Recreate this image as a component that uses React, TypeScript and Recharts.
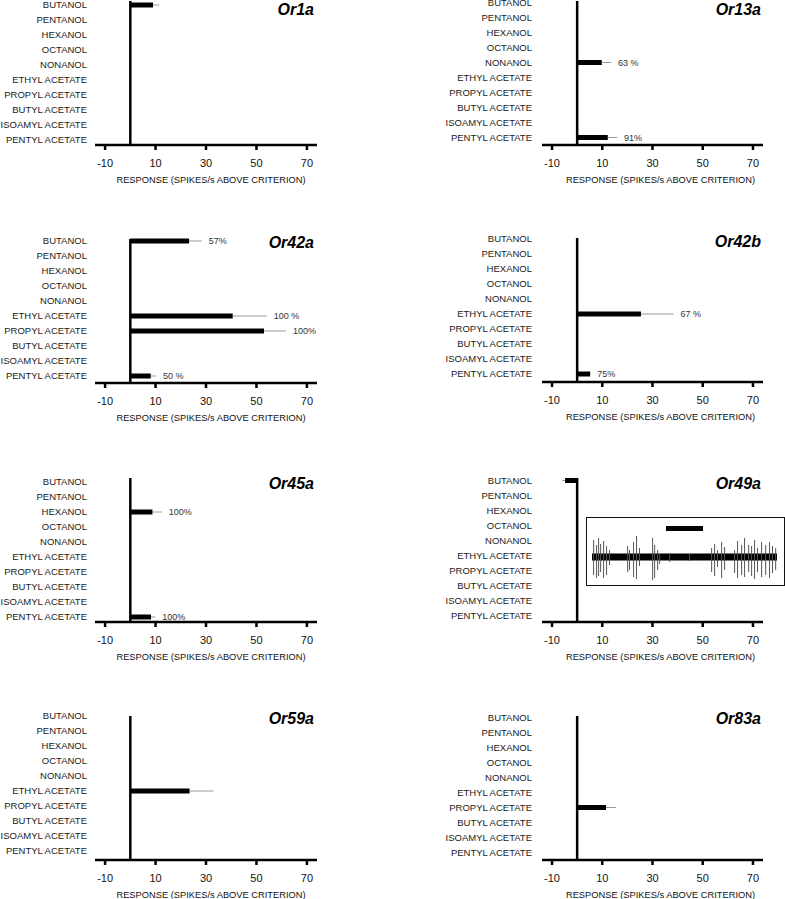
import React from 'react';
import {
  BarChart,
  Bar,
  XAxis,
  YAxis,
  ErrorBar,
  ReferenceLine,
  ReferenceDot,
  ReferenceArea,
} from 'recharts';

// ---------- data ----------
const odorants = [
  'BUTANOL',
  'PENTANOL',
  'HEXANOL',
  'OCTANOL',
  'NONANOL',
  'ETHYL ACETATE',
  'PROPYL ACETATE',
  'BUTYL ACETATE',
  'ISOAMYL ACETATE',
  'PENTYL ACETATE',
];

const xTicks = [-10, 10, 30, 50, 70];
const xDomain = [-14, 74];
const xAxisTitle = 'RESPONSE (SPIKES/s ABOVE CRITERION)';

// responses (spikes/s above criterion), one-sided error (SEM), % of responding sensilla
const or1aResponse = [9, null, null, null, null, null, null, null, null, null];
const or1aError = [2.5, null, null, null, null, null, null, null, null, null];
const or1aPercent = ['', '', '', '', '', '', '', '', '', ''];

const or13aResponse = [null, null, null, null, 9.8, null, null, null, null, 12.2];
const or13aError = [null, null, null, null, 3.7, null, null, null, null, 3.7];
const or13aPercent = ['', '', '', '', '63 %', '', '', '', '', '91%'];

const or42aResponse = [23.3, null, null, null, null, 40.6, 53, null, null, 8.1];
const or42aError = [5, null, null, null, null, 13.5, 8.7, null, null, 2.1];
const or42aPercent = ['57%', '', '', '', '', '100 %', '100%', '', '', '50 %'];

const or42bResponse = [null, null, null, null, null, 25.4, null, null, null, 5.2];
const or42bError = [null, null, null, null, null, 13, null, null, null, null];
const or42bPercent = ['', '', '', '', '', '67 %', '', '', '', '75%'];

const or45aResponse = [null, null, 8.8, null, null, null, null, null, null, 8.2];
const or45aError = [null, null, 3.7, null, null, null, null, null, null, 1.7];
const or45aPercent = ['', '', '100%', '', '', '', '', '', '', '100%'];

const or49aResponse = [-4.8, null, null, null, null, null, null, null, null, null];
const or49aError = [1.2, null, null, null, null, null, null, null, null, null];
const or49aPercent = ['', '', '', '', '', '', '', '', '', ''];

const or59aResponse = [null, null, null, null, null, 23.5, null, null, null, null];
const or59aError = [null, null, null, null, null, 9.5, null, null, null, null];
const or59aPercent = ['', '', '', '', '', '', '', '', '', ''];

const or83aResponse = [null, null, null, null, null, null, 11.5, null, null, null];
const or83aError = [null, null, null, null, null, null, 4, null, null, null];
const or83aPercent = ['', '', '', '', '', '', '', '', '', ''];

// inset recording (Or49a): spike times (s), spike extents (arbitrary units)
const spikeTimes = [
  0.11, 0.27, 0.38, 0.49, 0.65, 0.81, 0.97, 1.95, 2.05, 2.27, 2.43, 2.59, 3.3, 3.41, 3.57,
  3.68, 4.22, 5.3, 6.49, 6.65, 6.81, 7.03, 7.19, 7.73, 7.89, 8.11, 8.27, 8.49, 8.65, 8.81,
  8.97, 9.19, 9.41, 9.62, 9.78, 9.95,
];
const spikeMin = [
  -18, -21, -19, -15, -21, -18, -8, -15, -13, -20, -22, -9, -23, -21, -13, -7, -5, -4, -15,
  -19, -10, -21, -13, -16, -21, -18, -20, -15, -19, -22, -15, -20, -18, -21, -16, -13,
];
const spikeMax = [
  17, 12, 19, 13, 16, 11, 7, 11, 7, 15, 21, 9, 19, 12, 7, 4, 4, 3, 9, 13, 7, 15, 10, 7, 16,
  12, 19, 12, 11, 17, 9, 15, 12, 15, 11, 9,
];
const traceSpan = [0, 10];
const noiseBand = [-3.5, 3.5];
const stimulusWindow = [4, 6];

// ---------- layout ----------
const FONT = '"Liberation Sans", Arial, Helvetica, sans-serif';
const CHART_H = 200;
const XAXIS_H = 40;
const ROW_AXIS_Y = [
  [145, 383, 622, 860],
  [145, 382, 622, 860],
];
// distance from the x axis to the centre of the last category row, per panel
const LAST_ROW_GAP = [
  [5, 7, 5, 9],
  [7.5, 8, 6.5, 7.5],
];
// distance from the x axis up to the title baseline, per row
const TITLE_RISE = [130, 134.5, 133, 136];

const OdorTick = (props: any) => {
  const { x, y, payload } = props;
  return (
    <text
      x={x}
      y={y}
      dy="0.355em"
      textAnchor="end"
      fontSize={9.5}
      fill="#1a1a1a"
      fontFamily={FONT}
    >
      {payload.value}
    </text>
  );
};

type PanelProps = {
  title: string;
  response: (number | null)[];
  error: (number | null)[];
  percent: string[];
  col: number;
  row: number;
};

function Panel({ title, response, error, percent, col, row }: PanelProps) {
  const left = col === 0 ? 0 : 390;
  const yAxisWidth = col === 0 ? 95 : 152;
  const chartWidth = col === 0 ? 330 : 385;
  const marginRight = col === 0 ? 13 : 12;
  const axisY = ROW_AXIS_Y[col][row];
  const top = axisY - (CHART_H - XAXIS_H);
  const padBottom = LAST_ROW_GAP[col][row] - 7.5;
  const padTop = -6 - padBottom;

  const rows = odorants.map((o, i) => {
    const r = response[i];
    const e = error[i];
    return {
      odor: o,
      resp: r,
      err: e == null || r == null ? null : r >= 0 ? [0, e] : [e, 0],
    };
  });

  const titleRight = col === 0 ? 314 : 761;
  const titleBaseline = axisY - TITLE_RISE[row];

  return (
    <>
      <div style={{ position: 'absolute', left, top, width: chartWidth, height: CHART_H }}>
        <BarChart
          layout="vertical"
          width={chartWidth}
          height={CHART_H}
          data={rows}
          margin={{ top: 16, right: marginRight, bottom: 0, left: 0 }}
          barCategoryGap={0}
        >
          <XAxis
            type="number"
            domain={xDomain}
            ticks={xTicks}
            interval={0}
            allowDataOverflow
            height={XAXIS_H}
            stroke="#000"
            strokeWidth={2.5}
            tickSize={5}
            tickMargin={9}
            tick={{ fontSize: 11, fill: '#111' }}
            label={{
              value: xAxisTitle,
              position: 'insideBottom',
              offset: 2,
              dx: col === 0 ? 5 : 8,
              fontSize: 9.3,
              fill: '#111',
            }}
          />
          <YAxis
            type="category"
            dataKey="odor"
            width={yAxisWidth}
            axisLine={false}
            tickLine={false}
            tickSize={0}
            tickMargin={col === 0 ? 8 : 10}
            interval={0}
            padding={{ top: padTop, bottom: padBottom }}
            tick={<OdorTick />}
          />
          <Bar dataKey="resp" barSize={5} fill="#000" isAnimationActive={false}>
            <ErrorBar
              dataKey="err"
              direction="x"
              width={0}
              stroke="#9a9a9a"
              strokeWidth={1}
              isAnimationActive={false}
            />
          </Bar>
          <ReferenceLine x={0} stroke="#000" strokeWidth={2.5} />
          {percent.map((p, i) =>
            p ? (
              <ReferenceDot
                key={i}
                x={(response[i] ?? 0) + (error[i] ?? 0)}
                y={odorants[i]}
                r={0}
                fill="none"
                stroke="none"
                label={{ value: p, position: 'right', offset: 7, fontSize: 9, fill: '#333' }}
              />
            ) : null
          )}
        </BarChart>
      </div>
      <div
        style={{
          position: 'absolute',
          left: titleRight - 120,
          width: 120,
          top: titleBaseline - 13.5,
          textAlign: 'right',
          fontSize: 16,
          lineHeight: '16px',
          fontWeight: 'bold',
          fontStyle: 'italic',
          color: '#000',
          fontFamily: FONT,
        }}
      >
        {title}
      </div>
    </>
  );
}

function Inset() {
  const spikes = spikeTimes.map((t, i) => ({ t, amp: [spikeMin[i], spikeMax[i]] }));
  return (
    <div
      style={{
        position: 'absolute',
        left: 586,
        top: 517,
        width: 197,
        height: 67,
        border: '1px solid #111',
        background: '#fff',
      }}
    >
      <BarChart
        width={197}
        height={67}
        data={spikes}
        margin={{ top: 0, right: 7, bottom: 0, left: 5 }}
      >
        <XAxis type="number" dataKey="t" domain={traceSpan} hide allowDataOverflow />
        <YAxis type="number" domain={[-28, 39]} hide allowDataOverflow />
        <Bar dataKey="amp" barSize={1} fill="#555" isAnimationActive={false} />
        <ReferenceArea
          x1={traceSpan[0]}
          x2={traceSpan[1]}
          y1={noiseBand[0]}
          y2={noiseBand[1]}
          fill="#000"
          fillOpacity={1}
          stroke="none"
        />
        <ReferenceArea
          x1={stimulusWindow[0]}
          x2={stimulusWindow[1]}
          y1={26}
          y2={31}
          fill="#000"
          fillOpacity={1}
          stroke="none"
        />
      </BarChart>
    </div>
  );
}

export default function App() {
  return (
    <div
      style={{
        position: 'absolute',
        left: 0,
        top: 0,
        width: 785,
        height: 899,
        overflow: 'hidden',
        background: '#fff',
        fontFamily: FONT,
      }}
    >
      <Panel title="Or1a" response={or1aResponse} error={or1aError} percent={or1aPercent} col={0} row={0} />
      <Panel title="Or13a" response={or13aResponse} error={or13aError} percent={or13aPercent} col={1} row={0} />
      <Panel title="Or42a" response={or42aResponse} error={or42aError} percent={or42aPercent} col={0} row={1} />
      <Panel title="Or42b" response={or42bResponse} error={or42bError} percent={or42bPercent} col={1} row={1} />
      <Panel title="Or45a" response={or45aResponse} error={or45aError} percent={or45aPercent} col={0} row={2} />
      <Panel title="Or49a" response={or49aResponse} error={or49aError} percent={or49aPercent} col={1} row={2} />
      <Panel title="Or59a" response={or59aResponse} error={or59aError} percent={or59aPercent} col={0} row={3} />
      <Panel title="Or83a" response={or83aResponse} error={or83aError} percent={or83aPercent} col={1} row={3} />
      <Inset />
    </div>
  );
}
